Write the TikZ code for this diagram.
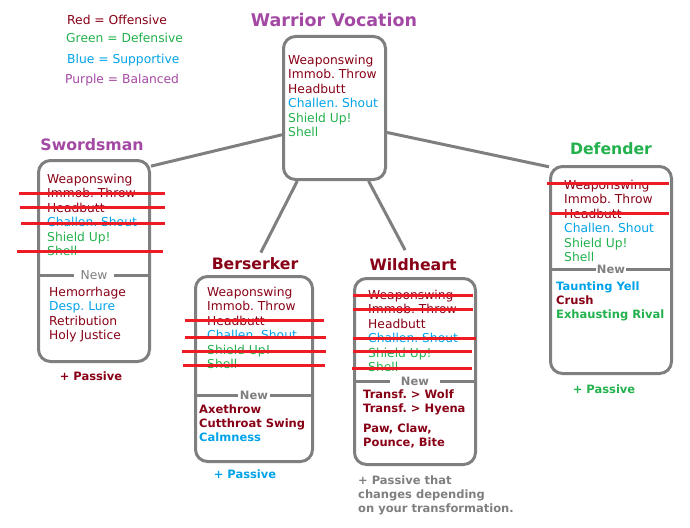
\documentclass[tikz,border=0pt]{standalone}
\usepackage{fontspec}
\setmainfont{DejaVu Sans}
\frenchspacing
\definecolor{offred}{HTML}{880015}
\definecolor{defgreen}{HTML}{22B14C}
\definecolor{supblue}{HTML}{00A2E8}
\definecolor{balpurple}{HTML}{A349A4}
\definecolor{framegray}{HTML}{7F7F7F}
\definecolor{strikered}{HTML}{ED1C24}

\begin{document}
\begin{tikzpicture}[x=1pt, y=-1pt,
  box/.style = {draw=framegray, line width=3pt, rounded corners=12pt, inner sep=0pt, anchor=north west},
  link/.style = {draw=framegray, line width=3pt},
  cut/.style = {draw=strikered, line width=3pt},
  split/.style = {draw=framegray, line width=3pt},
  legend/.style = {anchor=west, inner sep=0pt, font=\fontsize{12.3}{14.5}\selectfont},
  maintitle/.style = {text=balpurple, font=\fontsize{17.5}{20}\selectfont\bfseries},
  title/.style = {font=\fontsize{15.7}{18}\selectfont\bfseries},
  skills/.style = {anchor=base west, align=left, inner sep=0pt, font=\fontsize{12.3}{14.5}\selectfont},
  newskills/.style = {anchor=base west, align=left, inner sep=0pt, font=\fontsize{11.5}{14}\selectfont\bfseries},
  newlbl/.style = {fill=white, text=framegray, inner ysep=2pt, font=\fontsize{11.5}{14}\selectfont\bfseries},
  passive/.style = {font=\fontsize{11.5}{14}\selectfont\bfseries}]

\useasboundingbox (0,0) rectangle (690,527);

% legend
\node[legend, text=offred] (legred) at (67,20) {Red = Offensive};
\node[legend, text=defgreen] (leggreen) at (66,38) {Green = Defensive};
\node[legend, text=supblue] (legblue) at (67,60) {Blue = Supportive};
\node[legend, text=balpurple] (legpurple) at (65,80) {Purple = Balanced};

% boxes
\node[box, minimum width=102pt, minimum height=143pt] (war) at (282,35) {};
\node[box, minimum width=111pt, minimum height=201pt] (sword) at (37,159) {};
\node[box, minimum width=117pt, minimum height=185pt] (bers) at (194,275) {};
\node[box, minimum width=121pt, minimum height=186pt] (wild) at (353,277) {};
\node[box, minimum width=121pt, minimum height=207pt] (def) at (549,165) {};

% titles
\node[maintitle] (wartitle) at (334,20) {Warrior Vocation};
\node[title, text=balpurple] (swordtitle) at (92,145) {Swordsman};
\node[title, text=offred] (berstitle) at (255,264) {Berserker};
\node[title, text=offred] (wildtitle) at (413,265) {Wildheart};
\node[title, text=defgreen] (deftitle) at (611,149) {Defender};

% links
\draw[link] (war.207.5) -- (sword.59);
\draw[link] (war.335.3) -- (def.121.5);
\draw[link, shorten >=2pt] (war.243.3) -- (berstitle);
\draw[link, shorten >=6pt] (war.295.4) -- (wildtitle);

% base skills (anchored at the last line)
\node[skills] (warskills) at (288,136.5) {\textcolor{offred}{Weaponswing}\\\textcolor{offred}{Immob. Throw}\\\textcolor{offred}{Headbutt}\\\textcolor{supblue}{Challen. Shout}\\\textcolor{defgreen}{Shield Up!}\\\textcolor{defgreen}{Shell}};
\node[skills] (swordskills) at (47,255.5) {\textcolor{offred}{Weaponswing}\\\textcolor{offred}{Immob. Throw}\\\textcolor{offred}{Headbutt}\\\textcolor{supblue}{Challen. Shout}\\\textcolor{defgreen}{Shield Up!}\\\textcolor{defgreen}{Shell}};
\node[skills] (bersskills) at (207,368.5) {\textcolor{offred}{Weaponswing}\\\textcolor{offred}{Immob. Throw}\\\textcolor{offred}{Headbutt}\\\textcolor{supblue}{Challen. Shout}\\\textcolor{defgreen}{Shield Up!}\\\textcolor{defgreen}{Shell}};
\node[skills] (wildskills) at (368,371.5) {\textcolor{offred}{Weaponswing}\\\textcolor{offred}{Immob. Throw}\\\textcolor{offred}{Headbutt}\\\textcolor{supblue}{Challen. Shout}\\\textcolor{defgreen}{Shield Up!}\\\textcolor{defgreen}{Shell}};
\node[skills] (defskills) at (564,261.5) {\textcolor{offred}{Weaponswing}\\\textcolor{offred}{Immob. Throw}\\\textcolor{offred}{Headbutt}\\\textcolor{supblue}{Challen. Shout}\\\textcolor{defgreen}{Shield Up!}\\\textcolor{defgreen}{Shell}};

% lost skills
\draw[cut] (19,193) -- (165,193);
\draw[cut] (20,207) -- (165,207);
\draw[cut] (21,223) -- (165,223);
\draw[cut] (17,251) -- (163,251);
\draw[cut] (185,320) -- (324,320);
\draw[cut] (185,337) -- (326,337);
\draw[cut] (182,351) -- (326,351);
\draw[cut] (183,365) -- (325,365);
\draw[cut] (353,295) -- (473,295);
\draw[cut] (353,309) -- (473,309);
\draw[cut] (353,338) -- (476,338);
\draw[cut] (353,351) -- (472,351);
\draw[cut] (352,368) -- (472,368);
\draw[cut] (547,183) -- (669,183);
\draw[cut] (550,213) -- (669,213);

% new parts
\draw[split] (sword.west |- 0,275) -- (sword.east |- 0,275) node[newlbl, midway, inner xsep=7pt, font=\fontsize{12.3}{14}\selectfont] {New};
\draw[split] (bers.west |- 0,395) -- (bers.east |- 0,395) node[newlbl, midway, inner xsep=1.5pt] {New};
\draw[split] (wild.west |- 0,381) -- (wild.east |- 0,381) node[newlbl, midway, inner xsep=11pt] {New};
\draw[split] (def.west |- 0,269) -- (def.east |- 0,269) node[newlbl, midway, inner sep=0.5pt] {New};

\node[skills] (swordnew) at (49,339.5) {\textcolor{offred}{Hemorrhage}\\\textcolor{supblue}{Desp. Lure}\\\textcolor{offred}{Retribution}\\\textcolor{offred}{Holy Justice}};
\node[newskills] (bersnew) at (199,441) {\textcolor{offred}{Axethrow}\\\textcolor{offred}{Cutthroat Swing}\\\textcolor{supblue}{Calmness}};
\node[newskills, text=offred] (wildnew) at (363,446) {Transf. > Wolf\\Transf. > Hyena\\[6pt]Paw, Claw,\\Pounce, Bite};
\node[newskills] (defnew) at (556,318) {\textcolor{supblue}{Taunting Yell}\\\textcolor{offred}{Crush}\\\textcolor{defgreen}{Exhausting Rival}};

% passives
\node[passive, text=offred] (swordpass) at (91,376) {+ Passive};
\node[passive, text=supblue] (berspass) at (245,474) {+ Passive};
\node[passive, text=defgreen] (defpass) at (604,389) {+ Passive};
\node[passive, anchor=base west, align=left, inner sep=0pt, text=framegray] (wildpass) at (358,512) {+ Passive that\\changes depending\\on your transformation.};
\end{tikzpicture}
\end{document}
